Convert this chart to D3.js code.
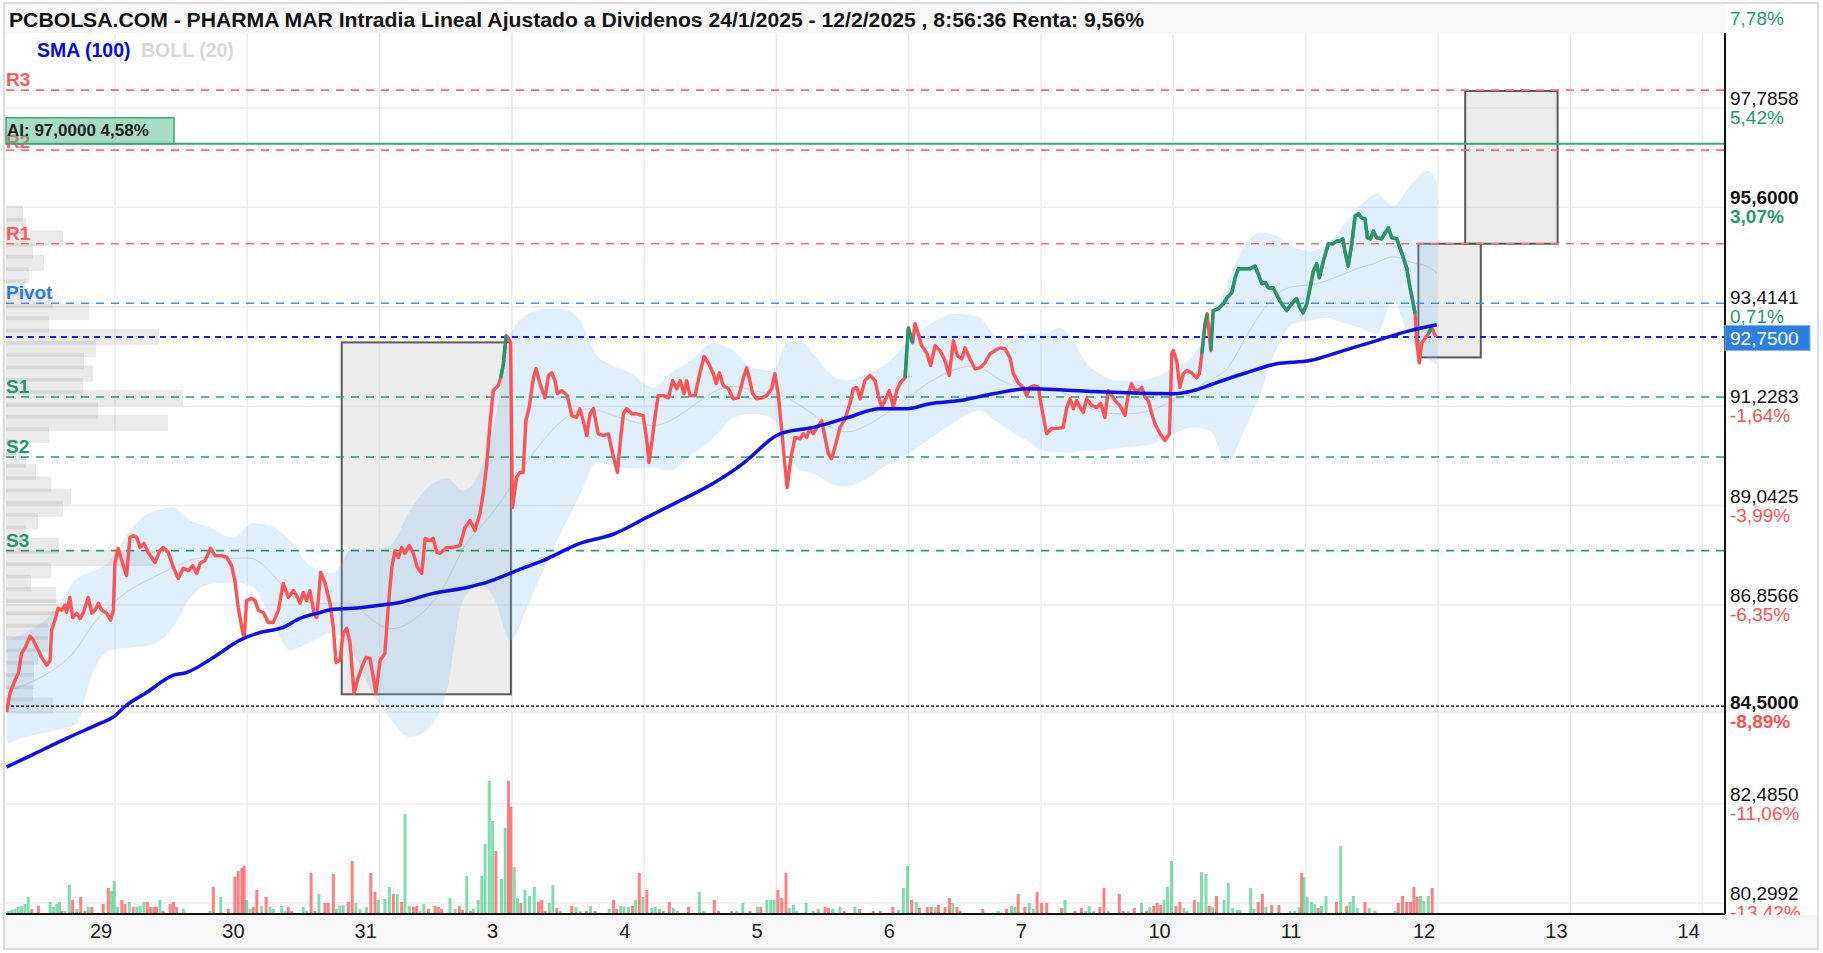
<!DOCTYPE html>
<html>
<head>
<meta charset="utf-8">
<script src="https://cdn.jsdelivr.net/npm/d3@7"></script>
<style>
  body { margin: 0; background: #fff; }
  svg { display: block; font-family: "Liberation Sans", Arial, sans-serif; }
</style>
</head>
<body>
<script>
// ------------------- data (bar index = ~3 px slot, price in EUR) -------------------
var dayLabels = ["29","30","31","3","4","5","6","7","10","11","12","13","14"];
var firstDayBar = 36.33, barsPerDay = 44.1;

var tickPrices = [80.2992, 82.4850, 84.5000, 86.8566, 89.0425, 91.2283, 93.4141, 95.6000, 97.7858, 99.9716];
var tickPct    = ["-13,42%","-11,06%","-8,89%","-6,35%","-3,99%","-1,64%","0,71%","3,07%","5,42%","7,78%"];
var boldTicks  = [84.5, 95.6];
var lastPrice = 92.75;
var lowLine = 84.63;
var alertPrice = 97.0, alertText = "AI: 97,0000  4,58%";

var pivots = [
  {name:"R3", v:98.18, kind:"r"}, {name:"R2", v:96.86, kind:"r"}, {name:"R1", v:94.80, kind:"r"},
  {name:"Pivot", v:93.49, kind:"p"},
  {name:"S1", v:91.43, kind:"s"}, {name:"S2", v:90.11, kind:"s"}, {name:"S3", v:88.05, kind:"s"}
];

// [barStart, barEnd, priceLow, priceHigh]
var boxes = [[111.9, 168.3, 84.89, 92.63], [470.8, 491.6, 92.30, 94.80], [486.4, 517.2, 94.80, 98.16]];

// [bar, price]
var pricePoints = [[0.2,84.50],[1.3,84.91],[3.0,85.20],[4.1,85.35],[5.2,85.79],[6.3,85.90],[8.0,86.17],[9.1,86.08],[10.8,85.86],[11.9,85.70],[13.6,85.53],[14.7,85.64],[15.2,86.30],[16.3,86.52],[17.4,86.78],[18.6,86.74],[19.7,86.85],[20.2,86.69],[21.3,87.02],[22.2,86.58],[23.6,86.67],[24.7,86.56],[25.8,86.69],[27.4,87.02],[28.6,86.67],[29.7,86.74],[30.8,86.89],[31.9,86.74],[33.6,86.67],[34.9,86.52],[35.8,86.74],[36.3,87.77],[37.4,88.10],[38.6,87.83],[40.2,87.50],[41.3,88.34],[42.4,88.38],[43.6,88.34],[44.7,88.12],[46.0,88.21],[47.4,88.01],[49.7,87.79],[51.3,88.05],[52.4,88.12],[54.1,88.01],[55.8,87.68],[57.4,87.44],[59.1,87.66],[60.8,87.61],[62.2,87.72],[63.6,87.55],[64.7,87.77],[66.3,87.83],[68.2,88.10],[69.7,87.94],[71.9,87.94],[73.6,87.90],[75.2,87.72],[76.3,87.39],[77.4,86.80],[78.6,86.36],[79.4,86.12],[80.2,86.95],[81.9,87.00],[83.0,86.95],[84.1,86.74],[85.8,86.69],[87.4,86.47],[89.1,86.47],[90.8,86.74],[92.4,87.33],[94.1,87.02],[95.8,87.17],[96.9,87.06],[98.0,86.89],[99.1,87.13],[100.2,86.95],[101.3,87.17],[102.7,86.67],[103.6,86.58],[104.9,87.57],[106.3,87.35],[108.0,86.89],[109.1,86.36],[110.0,85.59],[111.3,85.64],[112.4,86.23],[113.6,86.34],[114.7,86.01],[116.0,84.91],[117.4,85.26],[118.6,85.48],[120.0,85.70],[121.3,85.68],[122.2,85.35],[123.3,84.91],[124.7,85.64],[126.3,85.79],[127.4,86.80],[128.6,87.68],[129.7,88.05],[130.8,87.90],[131.9,88.12],[133.0,87.99],[134.4,88.16],[135.8,87.99],[137.1,87.68],[138.6,87.55],[139.7,88.32],[141.3,88.27],[142.4,88.32],[143.6,88.01],[144.7,87.99],[146.9,88.12],[149.1,88.12],[151.3,88.16],[153.0,88.56],[154.7,88.71],[156.3,88.49],[158.0,88.87],[159.1,89.31],[160.2,89.92],[161.3,90.80],[162.4,91.57],[164.1,91.68],[164.9,91.85],[165.8,92.16],[166.7,92.78],[167.4,92.73],[168.2,92.62],[168.8,89.00],[170.2,89.66],[171.3,89.77],[172.4,89.77],[173.3,90.91],[174.4,91.20],[175.8,91.85],[176.7,92.05],[178.0,91.72],[179.7,91.41],[180.8,91.90],[181.9,91.96],[183.0,91.79],[183.8,91.50],[185.2,91.57],[187.1,91.46],[188.6,91.02],[190.2,90.98],[191.3,91.17],[192.4,90.91],[193.6,90.58],[194.7,91.06],[195.8,91.17],[197.4,90.62],[199.1,90.58],[200.8,90.62],[202.2,90.19],[203.8,89.77],[204.7,90.40],[205.8,91.06],[206.9,91.17],[208.6,91.06],[210.2,91.06],[212.4,91.02],[213.6,90.47],[214.3,89.99],[215.2,90.40],[216.3,90.97],[217.4,91.46],[219.1,91.46],[220.8,91.41],[222.2,91.79],[223.6,91.61],[224.7,91.79],[226.0,91.50],[226.9,91.79],[228.0,91.46],[229.7,91.46],[231.3,91.96],[232.7,92.32],[234.1,92.18],[235.8,91.94],[236.7,91.72],[237.8,91.96],[239.1,91.68],[240.8,91.61],[242.4,91.39],[244.1,91.41],[245.8,91.85],[246.9,92.07],[247.8,91.83],[248.9,91.50],[250.2,91.39],[251.9,91.41],[253.6,91.46],[255.2,91.61],[256.3,91.94],[257.4,91.50],[258.6,90.69],[259.7,89.88],[260.4,89.44],[261.6,90.07],[263.0,90.54],[264.7,90.51],[265.8,90.62],[266.9,90.54],[268.0,90.76],[269.1,90.62],[270.4,90.76],[271.9,90.91],[273.0,90.54],[274.1,90.19],[275.2,90.07],[276.3,90.32],[278.0,90.76],[279.7,90.95],[281.3,91.28],[282.4,91.61],[283.6,91.64],[284.7,91.39],[286.3,91.79],[288.0,91.90],[289.7,91.79],[290.8,91.46],[291.9,91.20],[293.3,91.39],[294.4,91.57],[295.8,91.20],[296.9,91.57],[298.2,91.75],[299.7,91.85],[300.2,92.38],[300.8,92.95],[302.2,92.62],[303.0,93.04],[304.1,92.82],[305.2,92.56],[306.9,92.40],[308.2,92.12],[309.7,92.56],[311.3,92.45],[313.0,92.23],[314.4,91.90],[315.8,92.67],[317.1,92.34],[318.6,92.27],[319.7,92.51],[321.3,92.27],[323.0,92.05],[324.7,92.07],[326.3,92.18],[328.0,92.38],[329.7,92.45],[331.3,92.51],[333.0,92.49],[334.7,92.29],[335.8,91.94],[337.4,91.74],[339.1,91.64],[340.2,91.46],[341.3,91.64],[342.7,91.68],[344.1,91.64],[345.2,91.20],[346.9,90.62],[348.6,90.74],[350.8,90.74],[352.4,90.76],[353.6,91.20],[354.7,91.39],[355.8,91.17],[356.9,91.35],[358.0,91.20],[359.1,91.09],[360.2,91.39],[361.9,91.24],[363.6,91.20],[364.9,91.29],[366.3,90.98],[367.4,91.57],[368.6,91.46],[369.7,91.35],[371.3,91.24],[373.0,91.02],[374.1,91.50],[375.2,91.72],[376.3,91.57],[377.4,91.57],[378.6,91.64],[379.7,91.42],[380.8,91.35],[381.9,91.06],[383.0,90.84],[384.7,90.62],[386.3,90.47],[387.8,90.62],[388.6,92.38],[389.1,92.45],[390.2,92.23],[391.3,91.64],[392.4,91.94],[393.6,92.01],[395.2,91.96],[396.9,91.85],[397.8,91.94],[398.6,92.38],[399.7,93.04],[400.4,93.26],[401.6,92.45],[402.4,93.33],[404.1,93.37],[405.8,93.48],[406.9,93.61],[408.6,93.72],[409.7,94.05],[410.8,94.25],[413.0,94.25],[414.7,94.25],[416.3,94.31],[417.4,94.14],[418.6,93.92],[419.7,93.95],[420.8,93.83],[422.4,93.83],[424.1,93.61],[425.2,93.48],[426.9,93.33],[428.6,93.48],[430.2,93.59],[431.3,93.39],[432.4,93.28],[433.6,93.48],[434.7,93.83],[435.8,94.20],[436.9,94.36],[437.8,94.05],[439.1,94.42],[440.8,94.80],[442.4,94.80],[443.6,94.86],[444.7,94.86],[445.6,94.91],[446.3,94.64],[447.4,94.31],[448.6,94.80],[449.7,95.41],[450.8,95.46],[451.9,95.37],[453.0,95.35],[453.8,94.93],[454.9,94.91],[455.8,95.08],[456.9,94.93],[458.6,94.91],[459.7,95.04],[460.8,95.15],[461.9,94.93],[463.6,94.91],[465.2,94.60],[466.9,94.27],[468.0,93.83],[468.9,93.55],[469.7,93.26],[470.2,92.67],[471.1,92.18],[471.9,92.62],[473.0,92.71],[474.1,92.82],[475.2,92.95],[476.0,92.84],[476.7,92.75]];

// bar ranges where the price line is drawn green
var greenRanges = [[164.9, 166.7], [299.7, 302.2], [398.6, 400.4], [401.6, 469.7], [474.1, 475.2]];

// SMA(100): [bar, value]
var smaPoints = [[0.2,83.29],[9.1,83.57],[20.2,83.92],[31.3,84.25],[35.8,84.39],[40.2,84.65],[46.9,84.93],[55.8,85.31],[60.2,85.37],[69.1,85.70],[78.0,86.08],[84.7,86.25],[92.4,86.36],[98.0,86.56],[104.7,86.69],[109.1,86.76],[115.8,86.78],[124.7,86.85],[131.3,86.91],[142.4,87.11],[153.6,87.24],[160.2,87.35],[164.7,87.46],[171.3,87.64],[179.0,87.83],[191.3,88.21],[202.4,88.41],[213.6,88.78],[224.7,89.15],[235.8,89.53],[246.9,90.03],[255.8,90.54],[258.0,90.62],[269.1,90.76],[280.2,90.97],[291.3,91.17],[300.2,91.17],[308.0,91.28],[318.0,91.35],[329.1,91.50],[340.2,91.61],[351.3,91.59],[362.4,91.55],[373.6,91.52],[389.1,91.50],[395.8,91.57],[402.4,91.72],[412.4,91.94],[423.6,92.16],[434.7,92.23],[445.8,92.45],[456.9,92.67],[468.0,92.89],[476.9,93.02]];

// Bollinger(20): [bar, upper, lower]
var bollBands = [[0.3,86.08,83.81],[8.0,86.30,83.97],[16.3,86.74,84.10],[23.7,87.44,84.25],[28.0,87.57,85.20],[34.7,87.83,85.86],[41.3,88.49,85.92],[48.0,88.89,85.97],[55.7,89.00,86.36],[61.3,88.71,87.00],[68.0,88.56,87.31],[75.7,88.34,87.35],[82.3,88.65,87.24],[88.0,88.60,86.63],[94.7,88.27,85.86],[101.3,87.72,86.03],[109.0,87.55,86.23],[115.7,88.10,85.79],[121.3,88.05,85.02],[128.0,88.16,84.36],[134.7,88.93,83.95],[141.3,89.48,84.17],[147.0,89.64,84.98],[152.3,89.37,86.96],[158.0,89.81,87.29],[163.0,90.91,86.96],[168.0,92.78,86.08],[174.7,93.28,86.96],[180.3,93.37,87.79],[185.7,93.37,88.54],[191.3,93.11,89.26],[197.0,92.34,89.99],[202.3,92.12,89.92],[208.0,91.96,89.86],[215.7,91.64,89.88],[221.3,91.94,89.81],[229.0,92.27,90.19],[235.7,92.62,90.51],[242.3,92.45,90.97],[249.0,92.07,91.06],[255.7,92.01,90.95],[260.3,92.62,90.25],[264.7,92.67,89.81],[269.0,92.38,89.75],[274.7,91.94,89.53],[280.3,91.79,89.46],[285.7,91.90,89.59],[294.7,92.23,89.97],[301.3,92.71,90.21],[308.0,93.04,90.51],[317.0,93.26,90.91],[324.7,93.17,91.13],[329.0,92.82,90.95],[334.7,92.67,90.69],[340.3,92.82,90.47],[345.7,92.82,90.25],[351.3,92.95,90.21],[355.7,92.67,90.21],[360.3,92.16,90.25],[364.7,91.94,90.25],[370.3,91.79,90.30],[377.0,91.79,90.34],[382.3,91.85,90.40],[389.0,92.07,90.62],[395.7,92.34,90.76],[401.3,93.00,90.69],[407.0,93.92,89.97],[412.3,94.69,90.62],[418.0,95.04,91.50],[423.7,94.97,92.51],[429.0,94.73,93.04],[434.7,94.64,93.11],[440.3,94.80,93.17],[445.7,95.19,93.06],[451.3,95.63,92.95],[457.0,95.90,92.82],[462.3,95.63,93.55],[468.0,96.07,92.67],[473.7,96.40,92.29],[477.0,96.18,92.12]];

// volume: [bar, volume, 1 = up / 0 = down]
var volumeBars = [[0.8,3,1],[1.9,4,1],[3.0,5,1],[4.1,7,1],[5.2,8,1],[6.3,10,1],[7.4,17,1],[8.6,5,0],[10.8,8,0],[14.7,12,1],[15.8,7,1],[16.9,10,1],[17.8,12,1],[18.6,3,0],[19.7,3,1],[21.1,29,1],[22.2,14,0],[23.6,5,1],[24.9,17,0],[26.3,3,0],[27.4,7,1],[28.6,7,0],[32.4,10,0],[34.1,26,0],[35.2,23,1],[36.1,33,1],[37.2,7,1],[38.6,14,0],[39.7,10,0],[41.1,12,1],[42.4,7,0],[43.6,7,1],[44.7,8,1],[46.0,12,1],[47.1,12,0],[48.2,7,0],[49.3,7,0],[50.2,7,0],[51.3,14,1],[52.4,3,0],[54.7,10,0],[55.8,12,0],[56.9,7,0],[59.1,5,1],[68.0,3,1],[69.1,27,0],[71.6,17,1],[74.1,5,0],[76.3,37,0],[77.4,43,0],[78.6,46,0],[79.4,48,0],[80.2,14,1],[81.3,5,1],[82.4,7,0],[83.6,24,0],[85.2,8,1],[86.7,17,0],[88.0,7,1],[89.1,5,1],[91.9,8,1],[93.0,3,1],[94.1,7,0],[95.2,3,0],[99.1,7,1],[100.2,3,1],[101.7,41,0],[103.0,3,0],[104.3,20,1],[106.3,11,0],[107.4,11,0],[109.1,40,0],[110.2,5,1],[111.3,8,1],[112.4,9,1],[114.1,12,0],[115.4,53,0],[116.6,11,1],[118.0,5,1],[120.2,7,1],[121.6,41,0],[123.0,22,0],[124.1,14,1],[126.3,15,1],[127.8,27,1],[129.1,20,0],[130.4,20,1],[131.9,12,0],[133.0,100,1],[134.4,8,1],[135.8,7,0],[136.9,8,0],[138.0,3,1],[139.3,10,1],[140.8,5,0],[143.0,8,0],[144.1,7,0],[145.2,5,0],[148.0,16,1],[149.7,5,1],[151.1,8,0],[152.2,4,0],[153.6,38,1],[154.9,3,0],[155.8,5,1],[157.4,14,1],[158.6,38,1],[159.7,70,1],[161.1,133,1],[162.2,93,1],[163.3,63,0],
  [165.2,35,1],[166.4,86,1],[167.5,133,0],[168.3,107,0],[169.4,47,1],[170.5,16,1],[171.6,11,0],[173.0,24,1],[174.5,18,1],[176.1,27,1],[177.5,12,0],[178.6,14,0],[179.7,3,0],[181.1,11,1],[182.3,29,1],[183.6,6,0],[184.7,3,1],[188.6,8,0],[190.0,7,1],[191.4,3,1],[193.4,3,0],[194.9,8,1],[196.4,3,0],[201.1,5,1],[202.5,14,0],[203.6,5,0],[204.9,8,1],[206.0,7,1],[207.5,7,1],[208.8,8,0],[209.9,14,1],[211.1,41,0],[212.3,17,1],[213.6,24,0],[215.3,6,1],[216.4,7,1],[217.8,5,1],[219.1,3,0],[221.1,12,0],[222.5,6,1],[223.8,3,1],[227.5,7,0],[231.1,22,1],[232.5,3,1],[236.1,14,0],[237.5,3,0],[241.9,3,0],[243.6,3,1],[245.6,11,1],[248.0,3,0],[250.5,7,1],[251.6,7,0],[253.6,14,1],[254.9,14,1],[256.0,14,1],[257.3,24,0],[258.6,16,0],[260.0,41,0],[261.1,6,1],[262.5,9,1],[263.6,3,1],[266.7,11,1],[269.1,3,1],[270.8,5,1],[273.0,7,0],[274.1,6,0],[275.6,5,1],[278.0,7,1],[279.4,3,0],[283.0,7,1],[284.5,5,0],[289.1,3,0],[291.4,3,0],[295.6,7,0],[297.5,4,1],[299.1,26,1],[300.5,48,1],[301.9,14,0],[303.4,12,1],[304.5,6,0],[307.1,7,0],[308.4,7,0],[309.7,7,1],[310.8,9,0],[313.0,7,0],[314.5,16,0],[315.6,11,1],[317.0,7,0],[318.0,3,0],[325.6,5,0],[330.8,3,1],
  [333.5,5,0],[335.2,8,1],[336.3,7,1],[337.4,20,0],[339.6,7,0],[341.1,11,1],[342.4,5,1],[343.7,22,0],[345.2,11,0],[346.9,11,0],[351.9,6,0],[353.0,14,1],[356.3,3,0],[358.5,6,0],[360.0,3,1],[361.1,8,1],[362.6,3,1],[364.6,7,0],[366.0,26,0],[367.4,3,1],[371.1,20,0],[372.4,3,0],[374.1,3,1],[376.1,6,0],[378.5,11,1],[380.2,3,0],[381.3,7,1],[382.6,8,0],[383.7,11,0],[384.9,9,0],[386.0,14,1],[387.2,27,1],[388.5,53,1],[390.0,8,0],[391.3,12,0],[392.6,6,1],[393.7,3,1],[396.1,14,0],[397.4,12,1],[398.5,42,1],[400.0,40,1],[401.1,8,0],[402.2,7,1],[403.5,18,0],[406.0,14,1],[407.4,31,1],[408.9,6,1],[410.4,4,1],[411.3,4,1],[414.9,26,1],[416.0,5,1],[417.4,12,0],[418.8,20,0],[420.0,7,1],[421.9,9,0],[424.3,9,0],[428.0,3,1],[429.6,3,1],[431.1,7,1],[431.9,41,0],[432.6,37,1],[433.7,17,1],[435.2,12,1],[436.3,10,1],[437.4,6,0],[438.5,8,1],[440.0,18,1],[443.5,12,0],[444.9,68,1],[446.9,8,0],[448.0,12,1],[449.1,18,1],[450.4,6,1],[453.0,12,0],[454.4,6,1],[456.3,3,1],[463.0,3,1],[464.1,11,0],[465.5,18,0],[466.9,12,0],[468.2,12,0],[469.3,27,0],[470.4,17,0],[471.5,18,1],[472.6,13,1],[474.1,18,1],[475.4,26,0]];

// volume profile: bins from profStart upward, step profStep (price), volume per bin
var profStart = 84.64, profStep = 0.2705;
var profVol = [47,27,28,28,32,42,42,50,52,50,25,45,147,53,20,32,57,65,45,30,20,10,43,162,92,177,77,87,78,90,153,43,83,47,20,23,38,27,57,20,17];

// ------------------- d3js structure ------------------------
var W = 1823, H = 953;
var plotL = 6, plotR = 1725, plotT = 33, plotB = 914;

var svg = d3.select("body").append("svg")
    .attr("width", W).attr("height", H);

var x = d3.scaleLinear().domain([0, 573]).range([plotL, plotR]);
var y = d3.scaleLinear().domain([80.2992, 97.7858]).range([903, 108]);
var vY = d3.scaleLinear().domain([0, 140]).range([plotB, plotB - 140]);
var profW = d3.scaleLinear().domain([0, 180]).range([0, 180]);

var loc = d3.formatLocale({decimal: ",", thousands: ".", grouping: [3], currency: ["", ""]});
var fmt4 = loc.format(".4f");

var colRed = "#ff5252", colGreen = "#1f9b6b", colBlue = "#2b7fe0";
var kindColor = {r: "#ff5a5a", p: colBlue, s: "#1f9a6c"};
var lineColor = {r: "#ff6b6b", p: "#4a90e2", s: "#2a9d70"};

svg.append("defs").append("clipPath").attr("id", "plotclip")
  .append("rect").attr("x", plotL).attr("y", plotT)
  .attr("width", plotR - plotL).attr("height", plotB - plotT);

var plot = svg.append("g").attr("clip-path", "url(#plotclip)");

// grid
var gridX = dayLabels.map(function(d, i){ return firstDayBar + i * barsPerDay; });
plot.selectAll(".vgrid").data(gridX).enter().append("line")
  .attr("x1", function(d){ return x(d); }).attr("x2", function(d){ return x(d); })
  .attr("y1", plotT).attr("y2", plotB)
  .attr("stroke", "#ececec").attr("stroke-width", 1.5);

plot.selectAll(".hgrid").data(tickPrices).enter().append("line")
  .attr("x1", plotL).attr("x2", plotR)
  .attr("y1", function(d){ return y(d); }).attr("y2", function(d){ return y(d); })
  .attr("stroke", "#ececec").attr("stroke-width", 1.5);

// volume profile
plot.selectAll(".prof").data(profVol).enter().append("rect")
  .attr("x", plotL)
  .attr("y", function(d, i){ return y(profStart + i * profStep) - 8; })
  .attr("width", function(d){ return profW(d); })
  .attr("height", 16)
  .attr("fill", "rgba(140,140,140,0.18)");

// boxes
plot.selectAll(".box").data(boxes).enter().append("rect")
  .attr("x", function(d){ return x(d[0]); })
  .attr("y", function(d){ return y(d[3]); })
  .attr("width", function(d){ return x(d[1]) - x(d[0]); })
  .attr("height", function(d){ return y(d[2]) - y(d[3]); })
  .attr("fill", "rgba(205,205,205,0.38)")
  .attr("stroke", "#5a5a5a").attr("stroke-width", 2);

// bollinger band
var area = d3.area()
  .x(function(d){ return x(d[0]); })
  .y0(function(d){ return y(d[2]); })
  .y1(function(d){ return y(d[1]); })
  .curve(d3.curveMonotoneX);
plot.append("path").datum(bollBands).attr("d", area)
  .attr("fill", "rgba(120,190,240,0.24)");

plot.append("path").datum(bollBands)
  .attr("d", d3.line().x(function(d){ return x(d[0]); })
    .y(function(d){ return y((d[1] + d[2]) / 2); }).curve(d3.curveBasis))
  .attr("fill", "none").attr("stroke", "rgba(150,150,150,0.3)").attr("stroke-width", 1);

// volume bars
var bw = x(1) - x(0);
plot.selectAll(".vol").data(volumeBars).enter().append("rect")
  .attr("x", function(d){ return x(d[0]) - bw / 2; })
  .attr("y", function(d){ return vY(d[1]); })
  .attr("width", bw)
  .attr("height", function(d){ return plotB - vY(d[1]); })
  .attr("fill", function(d){ return d[2] ? "rgba(70,205,135,0.68)" : "rgba(255,80,80,0.72)"; });

// pivot levels
plot.selectAll(".piv").data(pivots).enter().append("line")
  .attr("x1", plotL).attr("x2", plotR)
  .attr("y1", function(d){ return y(d.v); }).attr("y2", function(d){ return y(d.v); })
  .attr("stroke", function(d){ return lineColor[d.kind]; })
  .attr("stroke-width", 1.6).attr("stroke-dasharray", "8,7");

// low dotted line
plot.append("line").attr("x1", plotL).attr("x2", plotR)
  .attr("y1", y(lowLine)).attr("y2", y(lowLine))
  .attr("stroke", "#444").attr("stroke-width", 1.6).attr("stroke-dasharray", "3,2");

// alert line
plot.append("line").attr("x1", plotL).attr("x2", plotR)
  .attr("y1", y(alertPrice)).attr("y2", y(alertPrice))
  .attr("stroke", "#3aa77a").attr("stroke-width", 2);

// last price dashed
plot.append("line").attr("x1", plotL).attr("x2", plotR)
  .attr("y1", y(lastPrice)).attr("y2", y(lastPrice))
  .attr("stroke", "#1a1ae6").attr("stroke-width", 2).attr("stroke-dasharray", "6,5");

// price line
var priceLine = d3.line().x(function(d){ return x(d[0]); }).y(function(d){ return y(d[1]); });
plot.append("path").datum(pricePoints).attr("d", priceLine)
  .attr("fill", "none").attr("stroke", colRed).attr("stroke-width", 3.4)
  .attr("stroke-linejoin", "round");
greenRanges.forEach(function(r){
  var seg = pricePoints.filter(function(p){ return p[0] >= r[0] - 0.01 && p[0] <= r[1] + 0.01; });
  plot.append("path").datum(seg).attr("d", priceLine)
    .attr("fill", "none").attr("stroke", colGreen).attr("stroke-width", 3.4)
    .attr("stroke-linejoin", "round");
});

// SMA
plot.append("path").datum(smaPoints)
  .attr("d", d3.line().x(function(d){ return x(d[0]); }).y(function(d){ return y(d[1]); }).curve(d3.curveMonotoneX))
  .attr("fill", "none").attr("stroke", "#0d0df0").attr("stroke-width", 3.5);

// pivot labels
svg.selectAll(".pivlab").data(pivots).enter().append("text")
  .attr("x", plotL).attr("y", function(d){ return y(d.v) - (d.name === "R2" ? 2 : 4); })
  .attr("fill", function(d){ return kindColor[d.kind]; })
  .style("font-size", "19px").style("font-weight", "bold")
  .text(function(d){ return d.name; });

// alert box
svg.append("rect").attr("x", plotL).attr("y", y(alertPrice) - 26)
  .attr("width", 168).attr("height", 26)
  .attr("fill", "rgba(80,185,140,0.5)").attr("stroke", "#3aa77a").attr("stroke-width", 1.5);
svg.append("text").attr("x", plotL + 1).attr("y", y(alertPrice) - 8)
  .style("font-size", "17px").style("font-weight", "bold").attr("fill", "#1d1d1d")
  .text(alertText);

// axes frame
svg.append("line").attr("x1", plotR).attr("x2", plotR).attr("y1", plotT).attr("y2", plotB)
  .attr("stroke", "#111").attr("stroke-width", 2);
svg.append("line").attr("x1", plotL).attr("x2", plotR).attr("y1", plotB).attr("y2", plotB)
  .attr("stroke", "#111").attr("stroke-width", 2);

// right axis labels
var tickG = svg.selectAll(".tick").data(tickPrices).enter().append("g");
tickG.filter(function(d, i){ return i < tickPrices.length - 1; }).append("text")
  .attr("x", plotR + 5).attr("y", function(d){ return y(d) - 3; })
  .style("font-size", "19px")
  .style("font-weight", function(d){ return boldTicks.indexOf(d) >= 0 ? "bold" : "normal"; })
  .attr("fill", "#111")
  .text(function(d){ return fmt4(d); });
tickG.append("text")
  .attr("x", plotR + 5).attr("y", function(d){ return y(d) + 16; })
  .style("font-size", "19px")
  .style("font-weight", function(d){ return boldTicks.indexOf(d) >= 0 ? "bold" : "normal"; })
  .attr("fill", function(d, i){ return tickPct[i].charAt(0) === "-" ? "#ff4f4f" : "#1f9b6b"; })
  .text(function(d, i){ return tickPct[i]; });

// last price tag
svg.append("rect").attr("x", plotR).attr("y", y(lastPrice) - 11.5)
  .attr("width", 85).attr("height", 25).attr("fill", "#2b7fe0")
  .attr("stroke", "#7fb2ee").attr("stroke-width", 1);
svg.append("text").attr("x", plotR + 5).attr("y", y(lastPrice) + 8)
  .style("font-size", "19px").attr("fill", "#fff").text(fmt4(lastPrice));

// bottom strip + day labels
svg.append("rect").attr("x", 5).attr("y", plotB + 1).attr("width", 1812).attr("height", 34)
  .attr("fill", "#f6f6f6");
svg.selectAll(".daylab").data(dayLabels).enter().append("text")
  .attr("x", function(d, i){ return x(gridX[i]) - 25; })
  .attr("y", 938)
  .style("font-size", "20px").attr("fill", "#1a1a1a")
  .text(function(d){ return d; });

// title bar
svg.append("rect").attr("x", 5).attr("y", 3).attr("width", plotR - 5).attr("height", 30)
  .attr("fill", "#f8f8f8");
svg.append("text").attr("x", 9).attr("y", 27)
  .style("font-size", "20px").style("font-weight", "bold").attr("fill", "#111")
  .attr("textLength", 1135).attr("lengthAdjust", "spacingAndGlyphs")
  .text("PCBOLSA.COM - PHARMA MAR Intradia Lineal Ajustado a Dividenos 24/1/2025 - 12/2/2025 , 8:56:36 Renta: 9,56%");

// legend
svg.append("text").attr("x", 37).attr("y", 57)
  .style("font-size", "19.5px").style("font-weight", "bold").attr("fill", "#0a0ae0")
  .text("SMA (100)");
svg.append("text").attr("x", 141).attr("y", 57)
  .style("font-size", "19.5px").style("font-weight", "bold").attr("fill", "#d8d8d8")
  .text("BOLL (20)");

// outer frame
svg.append("rect").attr("x", 4).attr("y", 3).attr("width", 1814).attr("height", 946)
  .attr("fill", "none").attr("stroke", "#dcdcdc").attr("stroke-width", 2);
</script>
</body>
</html>
